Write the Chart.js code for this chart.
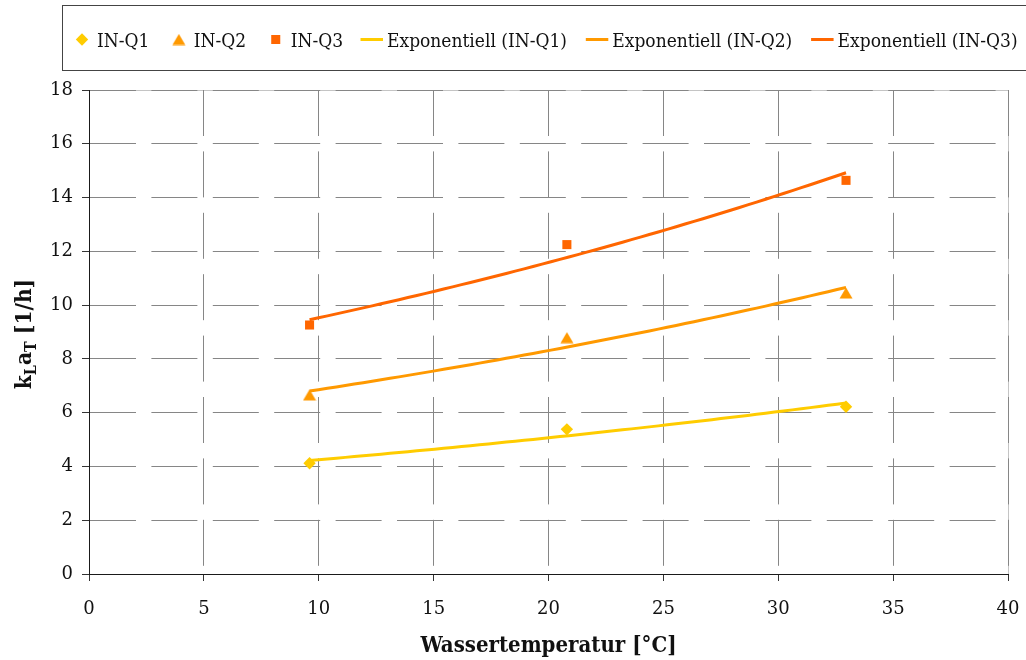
<!DOCTYPE html>
<html>
<head>
<meta charset="utf-8">
<script src="https://cdn.jsdelivr.net/npm/chart.js@4.4.1/dist/chart.umd.min.js"></script>
<style>
  html, body { margin: 0; padding: 0; background: #ffffff; }
  #wrap { width: 1026px; height: 660px; position: relative; }
</style>
</head>
<body>
<div id="wrap"><canvas id="chart" width="1026" height="660"></canvas></div>
<script>
// Measured kLa values per inflow setting vs. water temperature
const seriesNames = ['IN-Q1', 'IN-Q2', 'IN-Q3'];
const temperature = [9.6, 20.8, 32.95];
const kLaQ1 = [4.12, 5.38, 6.22];
const kLaQ2 = [6.66, 8.79, 10.45];
const kLaQ3 = [9.26, 12.25, 14.64];
const trendPrefix = 'Exponentiell';

// Axis ticks
const xTickValues = [0, 5, 10, 15, 20, 25, 30, 35, 40];
const yTickValues = [0, 2, 4, 6, 8, 10, 12, 14, 16, 18];

const seriesColors = ['#FFCC00', '#FF9900', '#FF6600'];
const SERIF = "'DejaVu Serif Condensed', 'DejaVu Serif', serif";
const TICK_FONT = "'DejaVu Serif', serif";

// Triangle marker centred in its bounding box
function triangleMarker(color) {
  const c = document.createElement('canvas');
  c.width = 14; c.height = 12;
  const g = c.getContext('2d');
  g.fillStyle = color;
  g.beginPath();
  g.moveTo(7, 0.5); g.lineTo(13.5, 11.5); g.lineTo(0.5, 11.5);
  g.closePath(); g.fill();
  return c;
}

const markerStyles = [
  { pointStyle: 'rectRot', radius: 6.2 },
  { pointStyle: triangleMarker(seriesColors[1]), radius: 7 },
  { pointStyle: 'rect', radius: 6.4 }
];

// Exponential least-squares trend y = a * e^(b x), as a spreadsheet "exponential" trendline
function exponentialTrend(xs, ys) {
  const n = xs.length;
  const ly = ys.map(Math.log);
  const mx = xs.reduce((s, v) => s + v, 0) / n;
  const my = ly.reduce((s, v) => s + v, 0) / n;
  let sxy = 0, sxx = 0;
  for (let i = 0; i < n; i++) {
    sxy += (xs[i] - mx) * (ly[i] - my);
    sxx += (xs[i] - mx) * (xs[i] - mx);
  }
  const b = sxy / sxx;
  const a = Math.exp(my - b * mx);
  const x0 = Math.min(...xs), x1 = Math.max(...xs);
  const steps = 60;
  const pts = [];
  for (let i = 0; i <= steps; i++) {
    const x = x0 + (x1 - x0) * i / steps;
    pts.push({ x, y: a * Math.exp(b * x) });
  }
  return pts;
}

const seriesValues = [kLaQ1, kLaQ2, kLaQ3];

const markerSets = seriesValues.map((vals, i) => ({
  label: seriesNames[i],
  data: temperature.map((t, k) => ({ x: t, y: vals[k] })),
  showLine: false,
  backgroundColor: seriesColors[i],
  borderColor: seriesColors[i],
  borderWidth: 0,
  pointStyle: markerStyles[i].pointStyle,
  pointRadius: markerStyles[i].radius,
  pointHoverRadius: markerStyles[i].radius,
  order: 2
}));

const trendSets = seriesValues.map((vals, i) => ({
  label: trendPrefix + ' (' + seriesNames[i] + ')',
  data: exponentialTrend(temperature, vals),
  showLine: true,
  borderColor: seriesColors[i],
  backgroundColor: seriesColors[i],
  borderWidth: 3,
  pointRadius: 0,
  pointHoverRadius: 0,
  fill: false,
  tension: 0,
  order: 1
}));

// Light solid top/right frame of the plot area, under the dashed grid
const plotFrame = {
  id: 'plotFrame',
  beforeDraw(chart) {
    const { ctx, chartArea: a } = chart;
    ctx.save();
    ctx.strokeStyle = '#c4c4c4';
    ctx.lineWidth = 1;
    ctx.beginPath();
    ctx.moveTo(Math.round(a.left) + 0.5, Math.round(a.top) + 0.5);
    ctx.lineTo(Math.round(a.right) + 0.5, Math.round(a.top) + 0.5);
    ctx.lineTo(Math.round(a.right) + 0.5, Math.round(a.bottom) + 0.5);
    ctx.stroke();
    ctx.restore();
  }
};

// Boxed legend row above the plot
const boxedLegend = {
  id: 'boxedLegend',
  afterDraw(chart) {
    const ctx = chart.ctx;
    const sets = chart.data.datasets;
    ctx.save();
    ctx.strokeStyle = '#444444';
    ctx.lineWidth = 1;
    ctx.strokeRect(62.5, 5.5, 1000, 65);
    const cy = 39.5;
    ctx.font = '19px ' + SERIF;
    ctx.textBaseline = 'alphabetic';
    ctx.textAlign = 'left';
    let cursor = 75;
    sets.forEach((ds, i) => {
      let tx;
      if (ds.showLine) {
        ctx.strokeStyle = ds.borderColor;
        ctx.lineWidth = 3;
        ctx.beginPath();
        ctx.moveTo(cursor, cy);
        ctx.lineTo(cursor + 22.5, cy);
        ctx.stroke();
        tx = cursor + 26.5;
      } else {
        ctx.fillStyle = ds.backgroundColor;
        Chart.helpers.drawPoint(ctx, {
          pointStyle: ds.pointStyle, radius: ds.pointRadius, rotation: 0, borderWidth: 0
        }, cursor + 7, cy);
        tx = cursor + 22;
      }
      ctx.fillStyle = '#111111';
      ctx.fillText(ds.label, tx, 46.5);
      const next = sets[i + 1];
      const gap = next && next.showLine ? (ds.showLine ? 18.8 : 17.4) : 22.5;
      cursor = tx + ctx.measureText(ds.label).width + gap;
    });
    ctx.restore();
  }
};

// Axis titles, with subscripts on the y title
const axisTitles = {
  id: 'axisTitles',
  afterDraw(chart) {
    const { ctx, chartArea: a } = chart;
    ctx.save();
    ctx.fillStyle = '#111111';
    ctx.textBaseline = 'alphabetic';
    ctx.textAlign = 'center';
    ctx.font = 'bold 22px ' + SERIF;
    ctx.fillText('Wassertemperatur [°C]', (a.left + a.right) / 2, 652);

    const parts = [
      { t: 'k', sub: false }, { t: 'L', sub: true },
      { t: 'a', sub: false }, { t: 'T', sub: true },
      { t: ' [1/h]', sub: false }
    ];
    const big = 'bold 22.5px ' + SERIF, small = 'bold 16px ' + SERIF;
    let total = 0;
    parts.forEach(p => { ctx.font = p.sub ? small : big; p.w = ctx.measureText(p.t).width; total += p.w; });
    ctx.translate(31, 334);
    ctx.rotate(-Math.PI / 2);
    ctx.textAlign = 'left';
    let x = -total / 2;
    parts.forEach(p => {
      ctx.font = p.sub ? small : big;
      ctx.fillText(p.t, x, p.sub ? 5 : 0);
      x += p.w;
    });
    ctx.restore();
  }
};

const gridDash = [46, 15.4];

new Chart(document.getElementById('chart'), {
  type: 'scatter',
  data: { datasets: [...markerSets, ...trendSets] },
  options: {
    responsive: false,
    animation: false,
    devicePixelRatio: 1,
    layout: { padding: { top: 90, right: 18, left: 0, bottom: 0 } },
    plugins: { legend: { display: false }, tooltip: { enabled: false } },
    scales: {
      x: {
        type: 'linear',
        min: 0, max: 40,
        afterBuildTicks: s => { s.ticks = xTickValues.map(v => ({ value: v })); },
        afterFit: s => { s.height = 86; s.paddingLeft = 0; s.paddingRight = 0; },
        grid: { color: '#868686', lineWidth: 1, tickColor: '#333333', tickLength: 7 },
        border: { color: '#1a1a1a', width: 1, dash: gridDash },
        ticks: { font: { family: TICK_FONT, size: 18 }, color: '#111111', padding: 18, maxRotation: 0 }
      },
      y: {
        type: 'linear',
        min: 0, max: 18,
        afterBuildTicks: s => { s.ticks = yTickValues.map(v => ({ value: v })); },
        afterFit: s => { s.width = 89; s.paddingTop = 0; s.paddingBottom = 0; },
        grid: { color: '#868686', lineWidth: 1, tickColor: '#333333', tickLength: 7 },
        border: { color: '#1a1a1a', width: 1, dash: gridDash },
        ticks: { font: { family: TICK_FONT, size: 18 }, color: '#111111', padding: 9 }
      }
    }
  },
  plugins: [plotFrame, boxedLegend, axisTitles]
});
</script>
</body>
</html>
